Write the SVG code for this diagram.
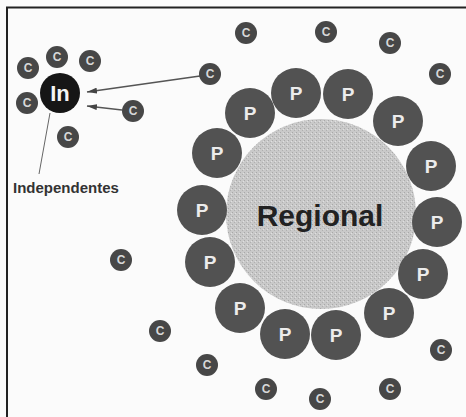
<svg xmlns="http://www.w3.org/2000/svg" width="466" height="417" viewBox="0 0 466 417">
<defs>
<style>
.c circle{fill:#474747}
.c text{fill:#d8d8d8;font-family:"Liberation Sans",Arial,sans-serif;font-weight:bold;font-size:12px;text-anchor:middle}
.p circle{fill:#525252}
.p text{fill:#ececec;font-family:"Liberation Sans",Arial,sans-serif;font-weight:bold;font-size:19px;text-anchor:middle}
.lbl{font-family:"Liberation Sans",Arial,sans-serif;font-weight:bold}
.conn{stroke:#555;stroke-width:1.6;fill:none}
</style>
<marker id="ah" viewBox="0 0 10 6" refX="10" refY="3" markerWidth="10" markerHeight="6" markerUnits="userSpaceOnUse" orient="auto">
<path d="M0,0 L10,3 L0,6 z" fill="#444"/>
</marker>
<pattern id="tex" width="4" height="4" patternUnits="userSpaceOnUse">
<rect width="4" height="4" fill="#c9c9c9"/>
<rect x="0" y="0" width="1" height="1" fill="#a8a8a8"/>
<rect x="2" y="2" width="1" height="1" fill="#b0b0b0"/>
<rect x="3" y="1" width="1" height="1" fill="#e0e0e0"/>
</pattern>
</defs>
<rect width="466" height="417" fill="#fbfbfb"/>
<g id="frame">
<line x1="6" y1="7.5" x2="466" y2="7.5" stroke="#222" stroke-width="2"/>
<line x1="7" y1="7" x2="7" y2="417" stroke="#222" stroke-width="2"/>
</g>
<g id="connectors">
<line class="conn" x1="200" y1="76" x2="87" y2="92" marker-end="url(#ah)"/>
<line class="conn" x1="122" y1="110" x2="87" y2="106" marker-end="url(#ah)"/>
<line x1="50" y1="113" x2="39" y2="174" stroke="#666" stroke-width="1"/>
</g>
<g id="regional">
<circle cx="321" cy="214" r="95" fill="url(#tex)"/>
<text class="lbl" x="320" y="226" font-size="30" fill="#222" text-anchor="middle">Regional</text>
</g>
<g id="P-nodes" class="p">
<g id="p1"><circle cx="250" cy="113" r="25"/><text x="250" y="120">P</text></g>
<g id="p2"><circle cx="296" cy="93" r="25"/><text x="296" y="100">P</text></g>
<g id="p3"><circle cx="348" cy="94" r="25"/><text x="348" y="101">P</text></g>
<g id="p4"><circle cx="398" cy="121" r="25"/><text x="398" y="128">P</text></g>
<g id="p5"><circle cx="431" cy="166" r="25"/><text x="431" y="173">P</text></g>
<g id="p6"><circle cx="437" cy="222" r="25"/><text x="437" y="229">P</text></g>
<g id="p7"><circle cx="423" cy="274" r="25"/><text x="423" y="281">P</text></g>
<g id="p8"><circle cx="389" cy="313" r="25"/><text x="389" y="320">P</text></g>
<g id="p9"><circle cx="336" cy="335" r="25"/><text x="336" y="342">P</text></g>
<g id="p10"><circle cx="285" cy="334" r="25"/><text x="285" y="341">P</text></g>
<g id="p11"><circle cx="240" cy="308" r="25"/><text x="240" y="315">P</text></g>
<g id="p12"><circle cx="210" cy="262" r="25"/><text x="210" y="269">P</text></g>
<g id="p13"><circle cx="202" cy="210" r="25"/><text x="202" y="217">P</text></g>
<g id="p14"><circle cx="217" cy="153" r="25"/><text x="217" y="160">P</text></g>
</g>
<g id="In-node">
<circle cx="60" cy="93" r="20" fill="#161616"/>
<text class="lbl" x="60" y="101" font-size="22" fill="#f4f4f4" text-anchor="middle">In</text>
</g>
<g id="label-independentes">
<text class="lbl" x="13" y="193" font-size="15" fill="#333">Independentes</text>
</g>
<g id="C-nodes" class="c">
<g id="c1"><circle cx="28" cy="68" r="11"/><text x="28" y="72">C</text></g>
<g id="c2"><circle cx="57" cy="57" r="11"/><text x="57" y="61">C</text></g>
<g id="c3"><circle cx="90" cy="61" r="11"/><text x="90" y="65">C</text></g>
<g id="c4"><circle cx="27" cy="103" r="11"/><text x="27" y="107">C</text></g>
<g id="c5"><circle cx="68" cy="137" r="11"/><text x="68" y="141">C</text></g>
<g id="c6"><circle cx="210" cy="74" r="11"/><text x="210" y="78">C</text></g>
<g id="c7"><circle cx="133" cy="111" r="11"/><text x="133" y="115">C</text></g>
<g id="c8"><circle cx="246" cy="33" r="11"/><text x="246" y="37">C</text></g>
<g id="c9"><circle cx="326" cy="32" r="11"/><text x="326" y="36">C</text></g>
<g id="c10"><circle cx="390" cy="43" r="11"/><text x="390" y="47">C</text></g>
<g id="c11"><circle cx="440" cy="74" r="11"/><text x="440" y="78">C</text></g>
<g id="c12"><circle cx="121" cy="260" r="11"/><text x="121" y="264">C</text></g>
<g id="c13"><circle cx="160" cy="331" r="11"/><text x="160" y="335">C</text></g>
<g id="c14"><circle cx="207" cy="365" r="11"/><text x="207" y="369">C</text></g>
<g id="c15"><circle cx="441" cy="350" r="11"/><text x="441" y="354">C</text></g>
<g id="c16"><circle cx="266" cy="389" r="11"/><text x="266" y="393">C</text></g>
<g id="c17"><circle cx="320" cy="399" r="11"/><text x="320" y="403">C</text></g>
<g id="c18"><circle cx="390" cy="389" r="11"/><text x="390" y="393">C</text></g>
</g>
</svg>
